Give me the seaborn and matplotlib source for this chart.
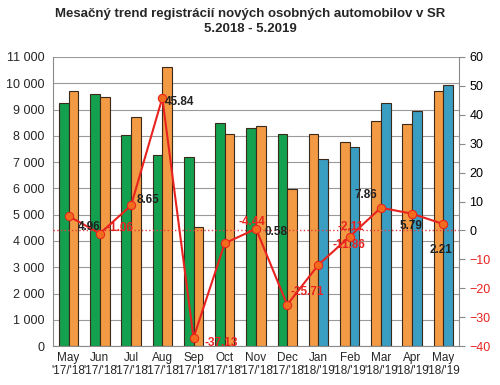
import numpy as np
import pandas as pd
import matplotlib
matplotlib.use('Agg')
import matplotlib.pyplot as plt
from matplotlib.ticker import FuncFormatter
import seaborn as sns

months = ['May', 'Jun', 'Jul', 'Aug', 'Sep', 'Oct', 'Nov', 'Dec', 'Jan', 'Feb', 'Mar', 'Apr', 'May']
periods = ["'17/'18"] * 8 + ["'18/'19"] * 5
prev_year = [9250, 9580, 8050, 7270, 7200, 8470, 8310, 8060, 8070, 7780, 8580, 8440, 9720]
curr_year = [9720, 9480, 8720, 10600, 4520, 8070, 8360, 5990, 7120, 7590, 9260, 8950, 9940]
prev_year_lbl = ['2017'] * 8 + ['2018'] * 5
curr_year_lbl = ['2018'] * 8 + ['2019'] * 5
growth = [4.96, -1.06, 8.65, 45.84, -37.13, -4.44, 0.58, -25.71, -11.86, -2.11, 7.86, 5.79, 2.21]

year_colors = {'2017': '#13a04f', '2018': '#f39a45', '2019': '#3a9dc2'}

labels = [m + '\n' + p for m, p in zip(months, periods)]
n = len(labels)
df = pd.DataFrame({
    'pos': list(range(n)) * 2,
    'value': prev_year + curr_year,
    'slot': ['prev'] * n + ['curr'] * n,
    'year': prev_year_lbl + curr_year_lbl,
})

sns.set_style('white')
plt.rcParams['font.family'] = ['Liberation Sans', 'DejaVu Sans']

fig = plt.figure(figsize=(5, 3.85), dpi=100)
ax = fig.add_axes([0.106, 0.101, 0.812, 0.751])

sns.barplot(data=df, x='pos', y='value', hue='slot', hue_order=['prev', 'curr'],
            width=0.62, gap=0.0, ax=ax, legend=False, zorder=2)
for cont, yrs in zip(ax.containers, [prev_year_lbl, curr_year_lbl]):
    for patch, yr in zip(cont, yrs):
        patch.set_facecolor(year_colors[yr])
        patch.set_edgecolor('#3b2a1a')
        patch.set_linewidth(0.8)

ax.set_ylim(0, 11000)
ax.set_yticks(np.arange(0, 11001, 1000))
ax.yaxis.set_major_formatter(FuncFormatter(lambda v, p: f'{int(v):,}'.replace(',', ' ')))
ax.set_xlim(-0.5, n - 0.5)
ax.set_xticks(range(n))
ax.set_xticklabels(labels, fontsize=8.5, linespacing=1.1)
ax.set_xlabel('')
ax.set_ylabel('')
ax.grid(axis='y', color='#9a9a9a', linewidth=0.8, zorder=0)
ax.set_axisbelow(True)
ax.tick_params(axis='y', labelsize=9, length=0, pad=6)
ax.tick_params(axis='x', length=0, pad=4)
for s in ['left', 'bottom']:
    ax.spines[s].set_color('#8a8a8a')
ax.spines['top'].set_visible(False)
ax.spines['right'].set_visible(False)

ax2 = ax.twinx()
ax2.axhline(0, color='#e04040', linestyle=':', linewidth=1.0, zorder=1)
sns.lineplot(x=np.arange(n), y=growth, ax=ax2, color='#e8231f', linewidth=1.5,
             marker='o', markersize=6, markerfacecolor='#f36b1c', markeredgecolor='#e8231f', zorder=5)
ax2.set_ylim(-40, 60)
ax2.set_yticks(np.arange(-40, 61, 10))
ax2.tick_params(axis='y', labelsize=9, direction='out', length=4, color='#8a8a8a')
for t, v in zip(ax2.get_yticklabels(), np.arange(-40, 61, 10)):
    t.set_color('#e8231f' if v < 0 else 'black')
ax2.spines['right'].set_color('#8a8a8a')
for s in ['left', 'top', 'bottom']:
    ax2.spines[s].set_visible(False)

# data label offsets (points), left edge of text
offsets = [(6.5, -8), (5, 4), (4, 4), (2, -3), (8, -4), (10, 15), (6, -2),
           (2, 9), (10, 14), (-9, 7), (-19, 9), (-9, -9), (-10, -19)]
for i, (v, off) in enumerate(zip(growth, offsets)):
    ax2.annotate(f'{v:.2f}', (i, v), xytext=off, textcoords='offset points',
                 fontsize=8.5, fontweight='bold', va='center', ha='left',
                 color='#e8231f' if v < 0 else '#222222', zorder=6)

fig.text(0.5, 0.98, 'Mesačný trend registrácií nových osobných automobilov v SR\n5.2018 - 5.2019',
         ha='center', va='top', fontsize=9.5, fontweight='bold', linespacing=1.4)

fig.savefig('out.png', dpi=100)
